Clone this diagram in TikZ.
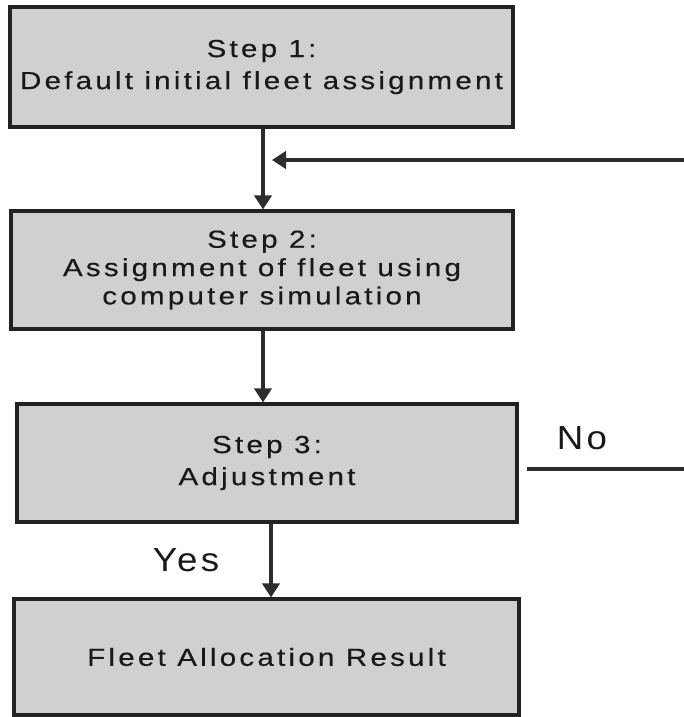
\documentclass[tikz,border=0pt]{standalone}
\usepackage{fontspec}
\usetikzlibrary{arrows.meta}
\newfontfamily\boxfont[FakeStretch=1.2,LetterSpace=13,FakeBold=0.4]{Liberation Sans}
\newfontfamily\labelfont[FakeStretch=1.1,LetterSpace=10]{Liberation Sans}
\definecolor{boxfill}{RGB}{208,208,208}
\definecolor{boxline}{RGB}{34,34,34}
\definecolor{flowline}{RGB}{45,45,45}
\definecolor{inktext}{RGB}{25,25,25}
\begin{document}
\begin{tikzpicture}[x=0.75pt,y=-0.75pt,
  stepbox/.style={draw=boxline,fill=boxfill,line width=2.4pt,inner sep=0pt,
    align=center,text=inktext,font=\boxfont\fontsize{18.5}{24}\selectfont},
  flow/.style={draw=flowline,line width=2.3pt,
    -{Triangle[width=13pt,length=10.5pt]}},
  answer/.style={font=\labelfont\fontsize{25}{30}\selectfont,text=inktext}]
  \useasboundingbox (0,0) rectangle (684,717);

  % process boxes
  \node[stepbox,minimum width=503*0.75pt,minimum height=120*0.75pt] (s1) at (261.5,67)
    {Step 1:\\Default initial fleet assignment};
  \node[stepbox,minimum width=502*0.75pt,minimum height=118*0.75pt] (s2) at (262,270)
    {\raisebox{-5pt}{\shortstack{Step 2:\\[1pt]Assignment of fleet using\\[1pt]computer simulation}}};
  \node[stepbox,minimum width=500*0.75pt,minimum height=118*0.75pt] (s3) at (267,463)
    {Step 3:\\Adjustment};
  \node[stepbox,minimum width=505*0.75pt,minimum height=116*0.75pt] (res) at (266.5,657)
    {\raisebox{-3pt}{Fleet Allocation Result}};

  % x positions of the vertical connectors, loop-back entry and "No" branch
  \coordinate (colA) at (263,0);
  \coordinate (colB) at (271,0);
  \coordinate (join) at (272,160);
  \coordinate (fbR) at (684,160);
  \coordinate (noL) at (527,469);
  \coordinate (noR) at (684,469);

  % connectors
  \draw[flow] (s1.south -| colA) -- (s2.north -| colA);
  \draw[flow] (fbR) -- (join);
  \draw[flow] (s2.south -| colA) -- (s3.north -| colA);
  \draw[flow] (s3.south -| colB) -- (res.north -| colB);
  \draw[draw=flowline,line width=2.6pt] (noL) -- (noR);

  % branch labels
  \node[answer] (yes) at (186,560) {Yes};
  \node[answer] (no) at (582,438) {No};
\end{tikzpicture}
\end{document}
